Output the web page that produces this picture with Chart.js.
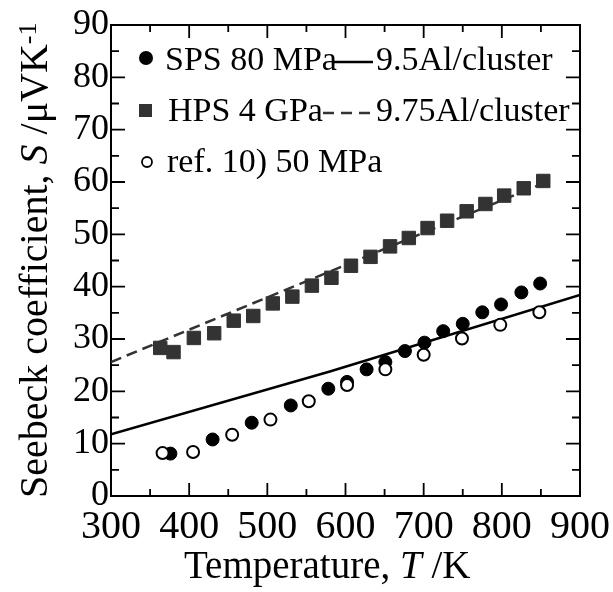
<!DOCTYPE html>
<html>
<head>
<meta charset="utf-8">
<script src="https://cdn.jsdelivr.net/npm/chart.js@4.4.1/dist/chart.umd.min.js"></script>
<style>
  body { margin: 0; background: #fff; }
  #caja { width: 613px; height: 592px; }
</style>
</head>
<body>
<div id="caja"><canvas id="grafica"></canvas></div>
<script>
// Datos: coeficiente Seebeck vs temperatura
const temperaturaSPS = [376, 430, 480, 530, 578, 602, 627, 651, 676, 701, 725, 750, 775, 799, 825, 849];
const seebeckSPS = [8.1, 10.8, 14.0, 17.3, 20.5, 21.8, 24.2, 25.6, 27.7, 29.3, 31.5, 32.9, 35.1, 36.6, 38.9, 40.6];

const temperaturaHPS = [363, 380, 406, 432, 457, 482, 507, 532, 557, 582, 607, 632, 657, 681, 705, 730, 755, 779, 803, 828, 853];
const seebeckHPS = [28.3, 27.5, 30.2, 31.1, 33.5, 34.4, 36.8, 38.1, 40.2, 41.7, 44.0, 45.7, 47.7, 49.3, 51.2, 52.6, 54.4, 55.8, 57.4, 58.8, 60.2];

const temperaturaRef = [366, 405, 455, 504, 553, 602, 651, 700, 749, 798, 848];
const seebeckRef = [8.2, 8.4, 11.7, 14.6, 18.1, 21.2, 24.2, 27.0, 30.1, 32.7, 35.1];

// curvas calculadas
const temperatura95 = [300, 580, 900];
const seebeck95 = [11.8, 23.8, 38.4];
const temperatura975 = [300, 855];
const seebeck975 = [25.6, 59.9];

const ticksX = [300, 400, 500, 600, 700, 800, 900];
const ticksY = [0, 10, 20, 30, 40, 50, 60, 70, 80, 90];

const etiquetas = ['SPS 80 MPa', 'HPS 4 GPa', 'ref. 10) 50 MPa', '9.5Al/cluster', '9.75Al/cluster'];

const FUENTE = '"Liberation Serif", "Times New Roman", serif';

function puntos(xs, ys) {
  return xs.map((x, i) => ({ x: x, y: ys[i] }));
}

// Marco con ticks hacia adentro en los cuatro lados
const marcoPlugin = {
  id: 'marco',
  beforeDatasetsDraw(chart) {
    const ctx = chart.ctx;
    const a = chart.chartArea;
    const sx = chart.scales.x;
    const sy = chart.scales.y;
    ctx.save();
    ctx.strokeStyle = '#000';
    ctx.lineWidth = 2;
    ctx.strokeRect(a.left, a.top, a.right - a.left, a.bottom - a.top);

    ctx.lineWidth = 1.8;
    ctx.beginPath();
    for (let i = 0; i < ticksX.length; i++) {
      const px = sx.getPixelForValue(ticksX[i]);
      ctx.moveTo(px, a.bottom); ctx.lineTo(px, a.bottom - 13);
      ctx.moveTo(px, a.top); ctx.lineTo(px, a.top + 13);
      if (i < ticksX.length - 1) {
        const pm = sx.getPixelForValue((ticksX[i] + ticksX[i + 1]) / 2);
        ctx.moveTo(pm, a.bottom); ctx.lineTo(pm, a.bottom - 7);
        ctx.moveTo(pm, a.top); ctx.lineTo(pm, a.top + 7);
      }
    }
    for (let i = 0; i < ticksY.length; i++) {
      const py = sy.getPixelForValue(ticksY[i]);
      ctx.moveTo(a.left, py); ctx.lineTo(a.left + 14, py);
      ctx.moveTo(a.right, py); ctx.lineTo(a.right - 14, py);
      if (i < ticksY.length - 1) {
        const pm = sy.getPixelForValue((ticksY[i] + ticksY[i + 1]) / 2);
        ctx.moveTo(a.left, pm); ctx.lineTo(a.left + 8, pm);
        ctx.moveTo(a.right, pm); ctx.lineTo(a.right - 8, pm);
      }
    }
    ctx.stroke();
    ctx.restore();
  }
};

// dibuja un texto con partes normales / cursivas / superindice
function textoMixto(ctx, partes, x, y) {
  let pos = x;
  partes.forEach(p => {
    ctx.font = (p.cursiva ? 'italic ' : '') + p.tam + 'px ' + FUENTE;
    ctx.fillText(p.t, pos, y - (p.sube || 0));
    pos += ctx.measureText(p.t).width;
  });
}

// Titulos de ejes y leyenda
const textosPlugin = {
  id: 'textos',
  afterDraw(chart) {
    const ctx = chart.ctx;
    const a = chart.chartArea;
    ctx.save();
    ctx.fillStyle = '#000';
    ctx.textBaseline = 'alphabetic';
    ctx.textAlign = 'left';

    // eje x
    textoMixto(ctx, [
      { t: 'Temperature, ', tam: 39 },
      { t: 'T', tam: 39, cursiva: true },
      { t: ' /K', tam: 39 }
    ], a.left + 73, 578);

    // eje y (rotado)
    ctx.save();
    ctx.translate(47, 498);
    ctx.rotate(-Math.PI / 2);
    textoMixto(ctx, [
      { t: 'Seebeck coefficient, ', tam: 40 },
      { t: 'S', tam: 40, cursiva: true },
      { t: ' /\u03BCVK', tam: 40 },
      { t: '-1', tam: 26, sube: 11 }
    ], 0, 0);
    ctx.restore();

    // leyenda
    const x0 = a.left;
    const y0 = a.top;
    ctx.font = '34px ' + FUENTE;

    ctx.beginPath();
    ctx.arc(x0 + 35, y0 + 33, 7, 0, Math.PI * 2);
    ctx.fillStyle = '#000';
    ctx.fill();
    ctx.fillText(etiquetas[0], x0 + 54, y0 + 45);

    ctx.fillStyle = '#333';
    ctx.fillRect(x0 + 28, y0 + 79, 13, 13);
    ctx.fillStyle = '#000';
    ctx.fillText(etiquetas[1], x0 + 57, y0 + 96);

    ctx.beginPath();
    ctx.arc(x0 + 36, y0 + 137, 5, 0, Math.PI * 2);
    ctx.lineWidth = 1.8;
    ctx.strokeStyle = '#000';
    ctx.stroke();
    ctx.fillText(etiquetas[2], x0 + 56, y0 + 147);

    ctx.lineWidth = 2.5;
    ctx.beginPath();
    ctx.moveTo(x0 + 223, y0 + 37);
    ctx.lineTo(x0 + 262, y0 + 37);
    ctx.stroke();
    ctx.fillText(etiquetas[3], x0 + 265, y0 + 45);

    ctx.strokeStyle = '#333';
    ctx.setLineDash([11, 7]);
    ctx.beginPath();
    ctx.moveTo(x0 + 212, y0 + 88);
    ctx.lineTo(x0 + 259, y0 + 88);
    ctx.stroke();
    ctx.setLineDash([]);
    ctx.fillText(etiquetas[4], x0 + 265, y0 + 96);

    ctx.restore();
  }
};

new Chart(document.getElementById('grafica'), {
  type: 'scatter',
  data: {
    datasets: [
      {
        label: etiquetas[2],
        data: puntos(temperaturaRef, seebeckRef),
        pointStyle: 'circle',
        pointRadius: 6,
        backgroundColor: '#fff',
        borderColor: '#000',
        borderWidth: 2,
        order: 0
      },
      {
        label: etiquetas[0],
        data: puntos(temperaturaSPS, seebeckSPS),
        pointStyle: 'circle',
        pointRadius: 6.5,
        backgroundColor: '#000',
        borderColor: '#000',
        borderWidth: 1,
        order: 1
      },
      {
        label: etiquetas[1],
        data: puntos(temperaturaHPS, seebeckHPS),
        pointStyle: 'rect',
        pointRadius: 9.5,
        backgroundColor: '#333',
        borderColor: '#333',
        borderWidth: 1,
        order: 2
      },
      {
        label: etiquetas[3],
        data: puntos(temperatura95, seebeck95),
        showLine: true,
        pointRadius: 0,
        borderColor: '#000',
        borderWidth: 2.5,
        order: 3
      },
      {
        label: etiquetas[4],
        data: puntos(temperatura975, seebeck975),
        showLine: true,
        pointRadius: 0,
        borderColor: '#333',
        borderWidth: 2.5,
        borderDash: [11, 6],
        order: 4
      }
    ]
  },
  options: {
    responsive: true,
    maintainAspectRatio: false,
    animation: false,
    layout: { padding: { top: 25, right: 33, left: 0, bottom: 0 } },
    plugins: {
      legend: { display: false },
      tooltip: { enabled: false }
    },
    scales: {
      x: {
        type: 'linear',
        min: 300,
        max: 900,
        grid: { display: false, drawTicks: false },
        border: { display: false },
        afterBuildTicks: s => { s.ticks = ticksX.map(v => ({ value: v })); },
        ticks: {
          color: '#000',
          font: { family: FUENTE, size: 40 },
          padding: 7,
          maxRotation: 0,
          autoSkip: false
        },
        // el margen lo pone layout.padding, no las etiquetas
        afterFit: s => { s.height = 96; s.paddingLeft = 0; s.paddingRight = 0; }
      },
      y: {
        type: 'linear',
        min: 0,
        max: 90,
        grid: { display: false, drawTicks: false },
        border: { display: false },
        afterBuildTicks: s => { s.ticks = ticksY.map(v => ({ value: v })); },
        ticks: {
          color: '#000',
          font: { family: FUENTE, size: 36 },
          padding: 2
        },
        afterFit: s => { s.width = 111; s.paddingTop = 0; s.paddingBottom = 0; }
      }
    }
  },
  plugins: [marcoPlugin, textosPlugin]
});
</script>
</body>
</html>
